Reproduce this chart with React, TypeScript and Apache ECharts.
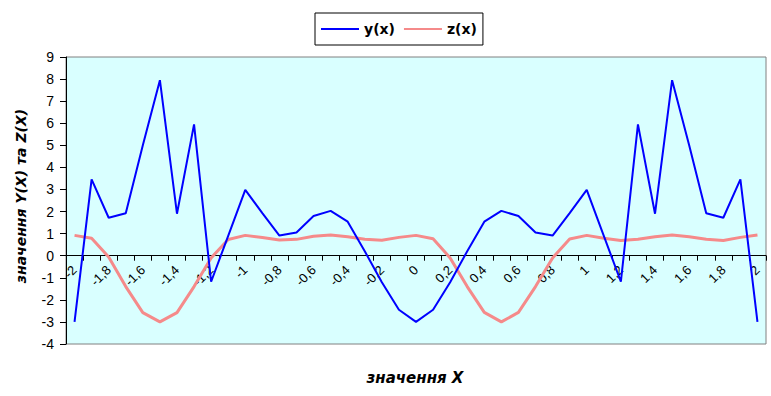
import React, { useEffect, useRef } from "react";
import * as echarts from "echarts";

const categories = [
  "-2", "-1,9", "-1,8", "-1,7", "-1,6", "-1,5", "-1,4", "-1,3", "-1,2", "-1,1",
  "-1", "-0,9", "-0,8", "-0,7", "-0,6", "-0,5", "-0,4", "-0,3", "-0,2", "-0,1",
  "0", "0,1", "0,2", "0,3", "0,4", "0,5", "0,6", "0,7", "0,8", "0,9",
  "1", "1,1", "1,2", "1,3", "1,4", "1,5", "1,6", "1,7", "1,8", "1,9", "2",
];

const yValues = [
  -3.0, 3.46, 1.72, 1.92, 5.0, 7.95, 1.9, 5.95, -1.18, 0.9,
  2.98, 1.93, 0.91, 1.05, 1.8, 2.03, 1.54, 0.2, -1.2, -2.45,
  -3.0, -2.45, -1.2, 0.2, 1.54, 2.03, 1.8, 1.05, 0.91, 1.93,
  2.98, 0.9, -1.18, 5.95, 1.9, 7.95, 5.0, 1.92, 1.72, 3.46, -3.0,
];

const zValues = [
  0.92, 0.79, -0.06, -1.4, -2.58, -3.0, -2.58, -1.4, -0.1, 0.73,
  0.92, 0.82, 0.71, 0.74, 0.88, 0.94, 0.86, 0.74, 0.7, 0.83,
  0.92, 0.77, -0.1, -1.4, -2.57, -3.0, -2.57, -1.4, -0.1, 0.76,
  0.92, 0.79, 0.69, 0.74, 0.86, 0.94, 0.86, 0.74, 0.69, 0.83, 0.94,
];

const seriesNames = ["y(x)", "z(x)"];
const yAxisTitle = "значення Y(X) та Z(X)";
const xAxisTitle = "значення X";

const Y_MIN = -4;
const Y_MAX = 9;
const GRID_TOP = 57;
const GRID_BOTTOM = 52;
const CHART_H = 396;

export default function App() {
  const ref = useRef<HTMLDivElement>(null);
  useEffect(() => {
    if (!ref.current) return;
    const chart = echarts.init(ref.current, undefined, { renderer: "svg" });
    const plotH = CHART_H - GRID_TOP - GRID_BOTTOM;
    const zeroOffset = -(plotH * (0 - Y_MIN)) / (Y_MAX - Y_MIN);
    chart.setOption({
      animation: false,
      backgroundColor: "#ffffff",
      legend: {
        left: 315,
        top: 13,
        padding: [8, 6, 8, 6],
        itemWidth: 38,
        itemHeight: 2,
        itemGap: 9,
        icon: "rect",
        borderColor: "#000000",
        borderWidth: 1,
        textStyle: {
          fontFamily: "DejaVu Sans",
          fontWeight: "bold",
          fontSize: 14,
          lineHeight: 16,
          color: "#000000",
        },
        data: seriesNames,
      },
      grid: {
        left: 66,
        right: 5,
        top: GRID_TOP,
        bottom: GRID_BOTTOM,
        show: true,
        backgroundColor: "#d9ffff",
        borderColor: "#808080",
        borderWidth: 1,
        containLabel: false,
      },
      xAxis: {
        type: "category",
        data: categories,
        boundaryGap: true,
        position: "bottom",
        offset: zeroOffset,
        axisLine: { onZero: false, lineStyle: { color: "#000000", width: 1 } },
        axisTick: { show: true, interval: 0, length: 5, lineStyle: { color: "#000000" } },
        axisLabel: {
          interval: 1,
          rotate: 45,
          margin: 12,
          fontFamily: "Liberation Sans",
          fontSize: 13,
          color: "#000000",
        },
        splitLine: { show: false },
      },
      yAxis: {
        type: "value",
        min: Y_MIN,
        max: Y_MAX,
        interval: 1,
        axisLine: { show: true, lineStyle: { color: "#000000", width: 1 } },
        axisTick: { show: true, length: 6, lineStyle: { color: "#000000" } },
        axisLabel: {
          margin: 12,
          fontFamily: "Liberation Sans",
          fontSize: 14,
          color: "#000000",
        },
        splitLine: { show: false },
      },
      graphic: [
        {
          type: "text",
          x: 21,
          y: 196,
          rotation: Math.PI / 2,
          style: {
            text: yAxisTitle,
            fontFamily: "DejaVu Sans",
            fontWeight: "bold",
            fontStyle: "italic",
            fontSize: 14,
            fill: "#000000",
            align: "center",
            verticalAlign: "middle",
          },
        },
        {
          type: "text",
          x: 415,
          y: 378,
          style: {
            text: xAxisTitle,
            fontFamily: "DejaVu Sans",
            fontWeight: "bold",
            fontStyle: "italic",
            fontSize: 15,
            fill: "#000000",
            align: "center",
            verticalAlign: "middle",
          },
        },
      ],
      series: [
        {
          name: seriesNames[0],
          type: "line",
          data: yValues,
          symbol: "none",
          lineStyle: { color: "#0000ff", width: 2 },
          itemStyle: { color: "#0000ff" },
          z: 3,
        },
        {
          name: seriesNames[1],
          type: "line",
          data: zValues,
          symbol: "none",
          lineStyle: { color: "#f58a8a", width: 3 },
          itemStyle: { color: "#f58a8a" },
          z: 2,
        },
      ],
    });
    return () => chart.dispose();
  }, []);
  return (
    <div
      ref={ref}
      style={{ position: "fixed", left: 0, top: 0, width: 771, height: 396 }}
    />
  );
}
